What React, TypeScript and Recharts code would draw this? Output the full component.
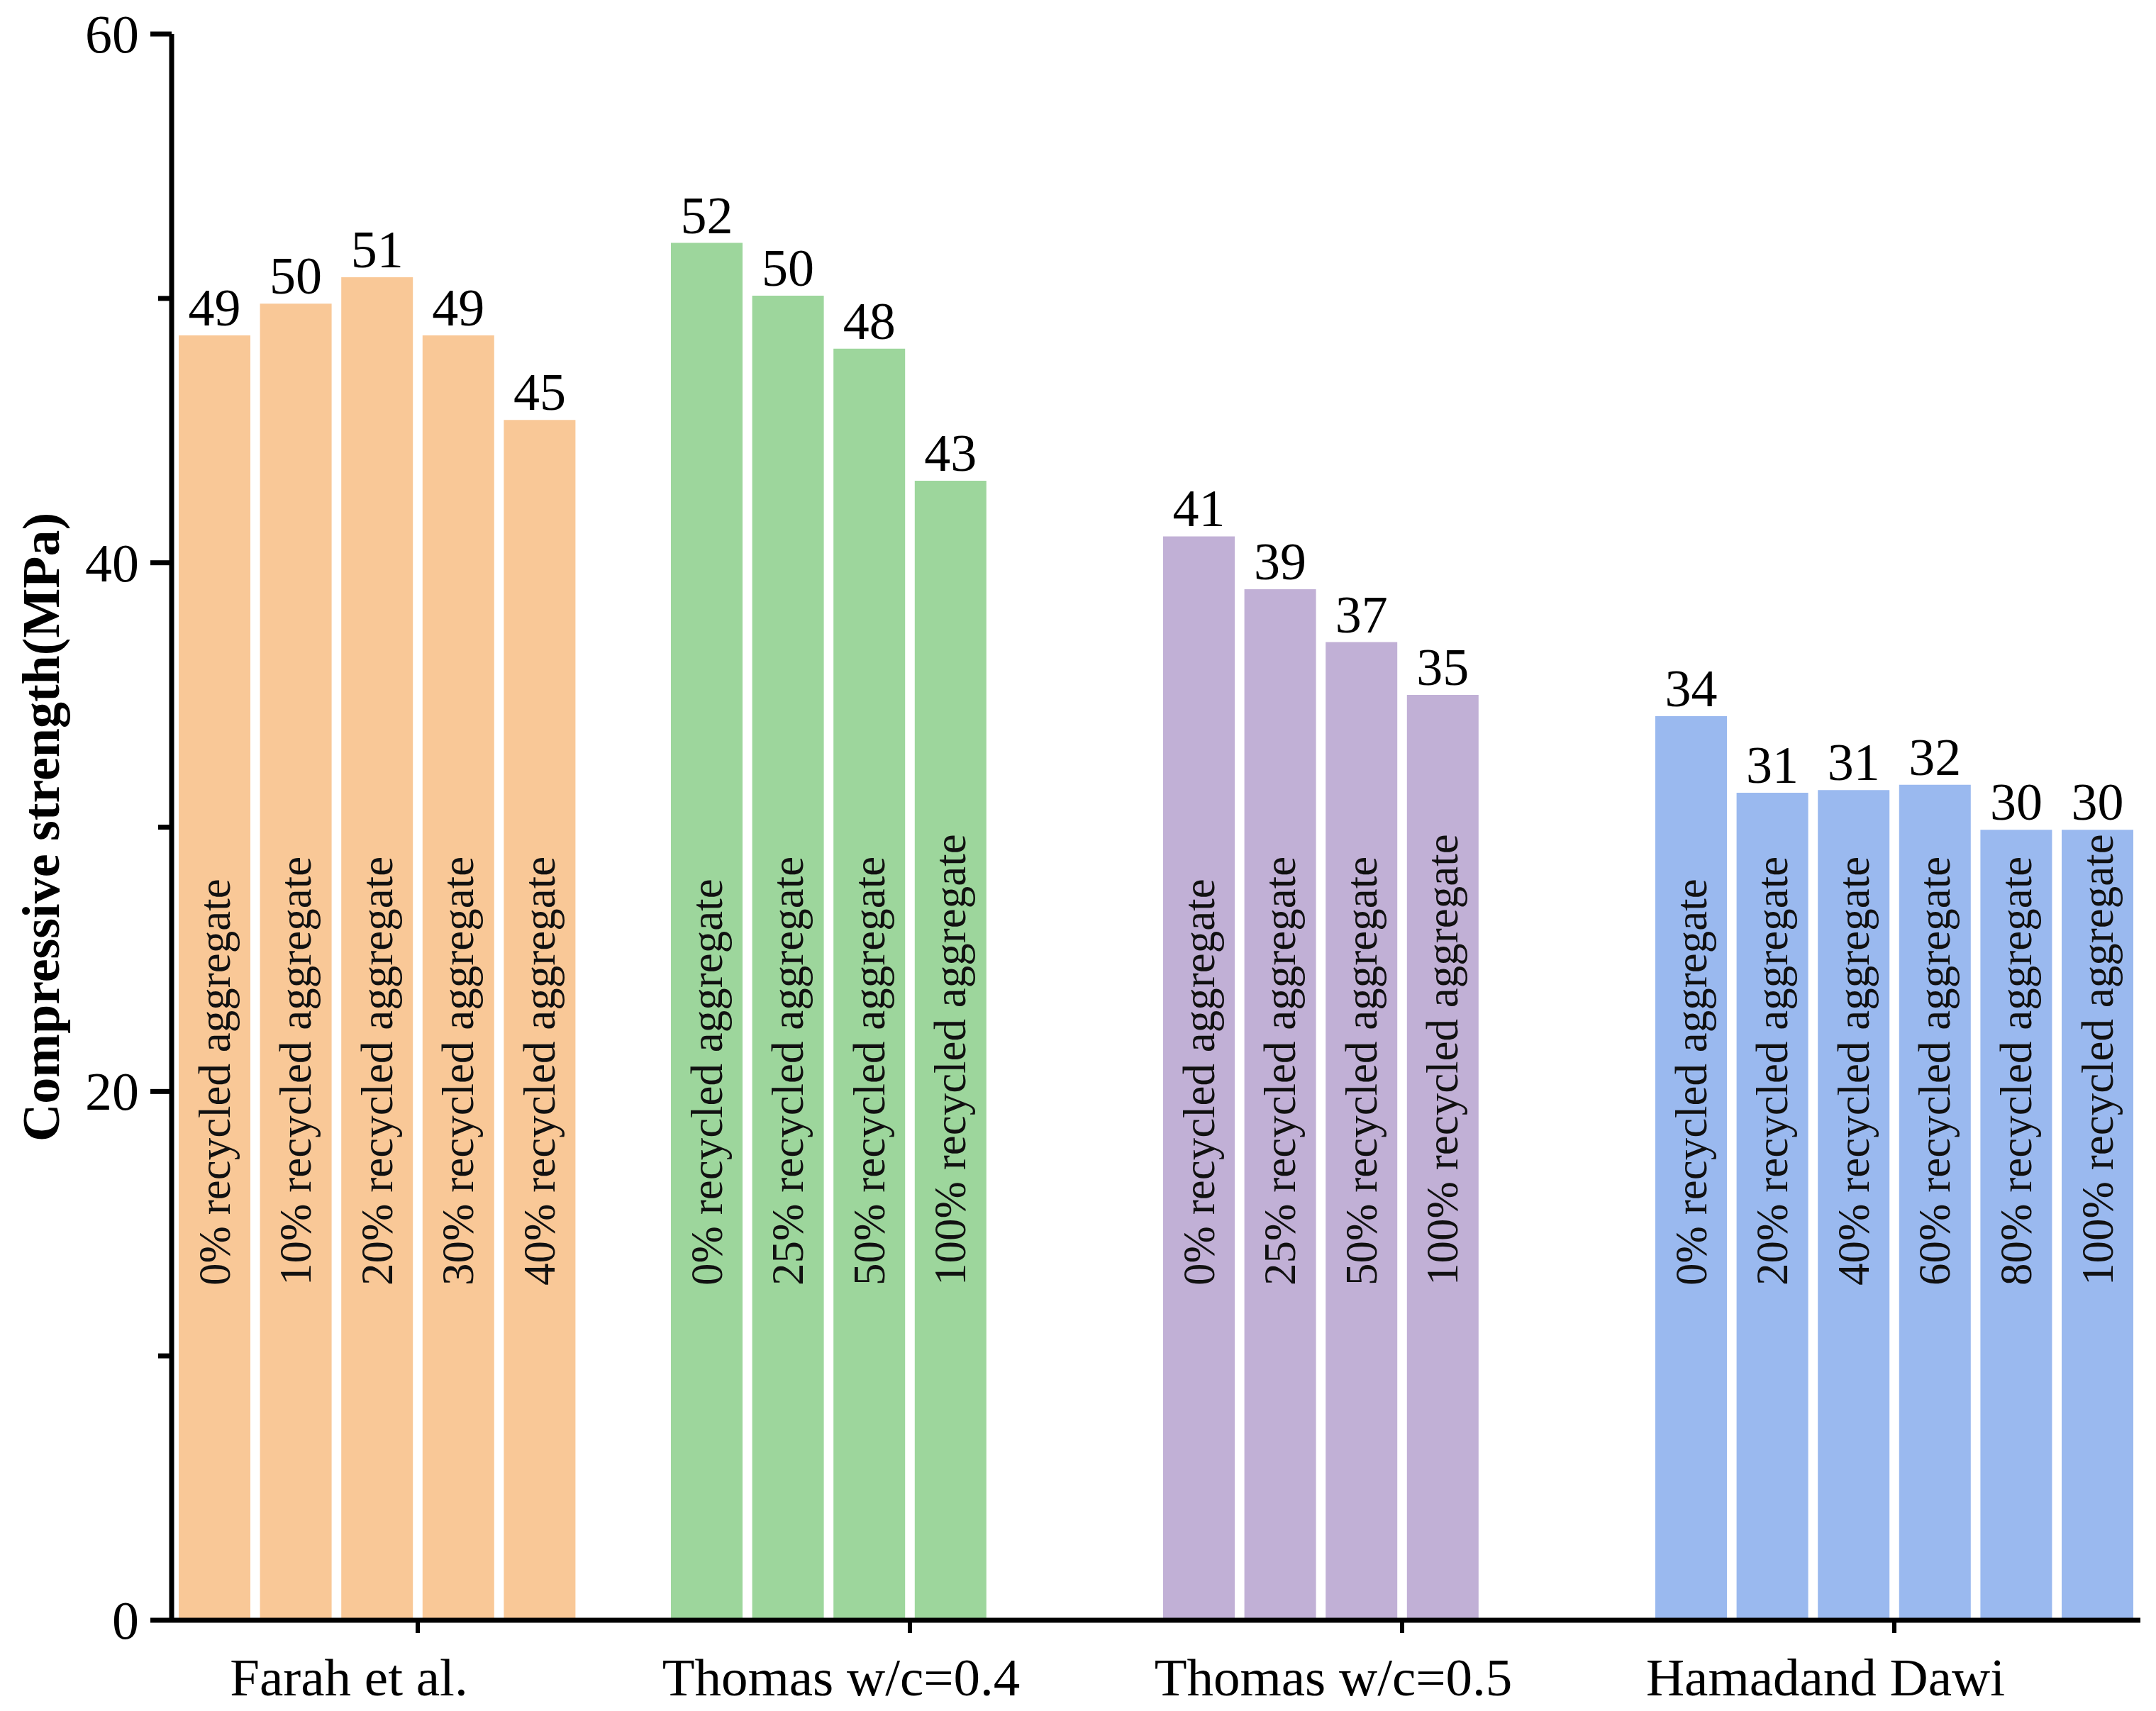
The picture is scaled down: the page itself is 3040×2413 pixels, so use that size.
import React from "react";
import { BarChart, Bar, XAxis, YAxis, Cell, LabelList, Label } from "recharts";

const categories = ["Farah et al.", "Thomas w/c=0.4", "Thomas w/c=0.5", "Hamadand Dawi"];
const groupColors = ["#F9C897", "#9DD69C", "#C1B0D6", "#9AB9EF"];

// compressive strength (MPa) per replacement ratio
const farahStrength = [48.6, 49.8, 50.8, 48.6, 45.4];
const farahReplacement = ["0%", "10%", "20%", "30%", "40%"];
const thomas04Strength = [52.1, 50.1, 48.1, 43.1];
const thomas04Replacement = ["0%", "25%", "50%", "100%"];
const thomas05Strength = [41.0, 39.0, 37.0, 35.0];
const thomas05Replacement = ["0%", "25%", "50%", "100%"];
const hamadStrength = [34.2, 31.3, 31.4, 31.6, 29.9, 29.9];
const hamadReplacement = ["0%", "20%", "40%", "60%", "80%", "100%"];

const yTicks = [0, 10, 20, 30, 40, 50, 60];
const SLOTS = 6;

const FONT = '"Times New Roman", "Liberation Serif", serif';

const groups: [number[], string[]][] = [
  [farahStrength, farahReplacement],
  [thomas04Strength, thomas04Replacement],
  [thomas05Strength, thomas05Replacement],
  [hamadStrength, hamadReplacement],
];

const data = categories.map((name, i) => {
  const row: Record<string, any> = { name };
  for (let k = 0; k < SLOTS; k++) {
    row[`v${k}`] = groups[i][0][k] ?? null;
    row[`r${k}`] = groups[i][1][k] ?? null;
  }
  return row;
});

function YTick(props: any) {
  const { x, y, payload } = props;
  const major = payload.value % 20 === 0;
  return (
    <g>
      <line x1={x - (major ? 30 : 19)} x2={x} y1={y} y2={y} stroke="#000" strokeWidth={7} />
      {major && (
        <text x={x - 46} y={y} textAnchor="end" dominantBaseline="central" fontSize={76} fontFamily={FONT} fill="#000">
          {payload.value}
        </text>
      )}
    </g>
  );
}

// category names sit a little left of their tick, as in the source figure
function XTick(props: any) {
  const { x, y, payload } = props;
  return (
    <text x={x - 97} y={y + 88} textAnchor="middle" fontSize={75} fontFamily={FONT} fill="#000">
      {payload.value}
    </text>
  );
}

function RatioLabel(props: any) {
  const { x, y, width, height, value } = props;
  if (value == null || x == null) return null;
  const cx = x + width / 2;
  const base = y + height - 472;
  return (
    <text
      x={cx}
      y={base}
      transform={`rotate(-90 ${cx} ${base})`}
      dominantBaseline="central"
      fontSize={63}
      fontFamily={FONT}
      fill="#111"
    >
      {value} recycled aggregate
    </text>
  );
}

export default function App() {
  return (
    <div style={{ position: "absolute", left: 0, top: 0, background: "#fff" }}>
      <BarChart
        width={3040}
        height={2413}
        data={data}
        margin={{ top: 48, right: 22, bottom: 18, left: 0 }}
        barCategoryGap={10}
        barGap={13.6}
      >
        <XAxis
          dataKey="name"
          axisLine={{ stroke: "#000", strokeWidth: 7 }}
          tickLine={{ stroke: "#000", strokeWidth: 6 }}
          tickSize={18}
          tickMargin={0}
          height={110}
          interval={0}
          tick={<XTick />}
        />
        <YAxis
          width={242}
          domain={[0, 60]}
          ticks={yTicks}
          interval={0}
          tickSize={0}
          tickMargin={0}
          tickLine={false}
          axisLine={{ stroke: "#000", strokeWidth: 7 }}
          tick={<YTick />}
        >
          <Label
            content={({ viewBox }: any) => {
              const cx = viewBox.x + 58;
              const cy = viewBox.y + viewBox.height / 2;
              return (
                <text
                  x={cx}
                  y={cy}
                  transform={`rotate(-90 ${cx} ${cy})`}
                  textAnchor="middle"
                  dominantBaseline="central"
                  fontSize={74}
                  fontWeight="bold"
                  fontFamily={FONT}
                  fill="#000"
                >
                  Compressive strength(MPa)
                </text>
              );
            }}
          />
        </YAxis>
        {Array.from({ length: SLOTS }, (_, k) => (
          <Bar key={k} dataKey={`v${k}`} isAnimationActive={false}>
            {data.map((_, i) => (
              <Cell key={i} fill={groupColors[i]} />
            ))}
            <LabelList
              dataKey={`v${k}`}
              position="top"
              offset={14}
              formatter={(v: any) => (v == null ? "" : Math.round(v))}
              style={{ fontSize: 74, fontFamily: FONT, fill: "#000" }}
            />
            <LabelList dataKey={`r${k}`} content={<RatioLabel />} />
          </Bar>
        ))}
      </BarChart>
    </div>
  );
}
